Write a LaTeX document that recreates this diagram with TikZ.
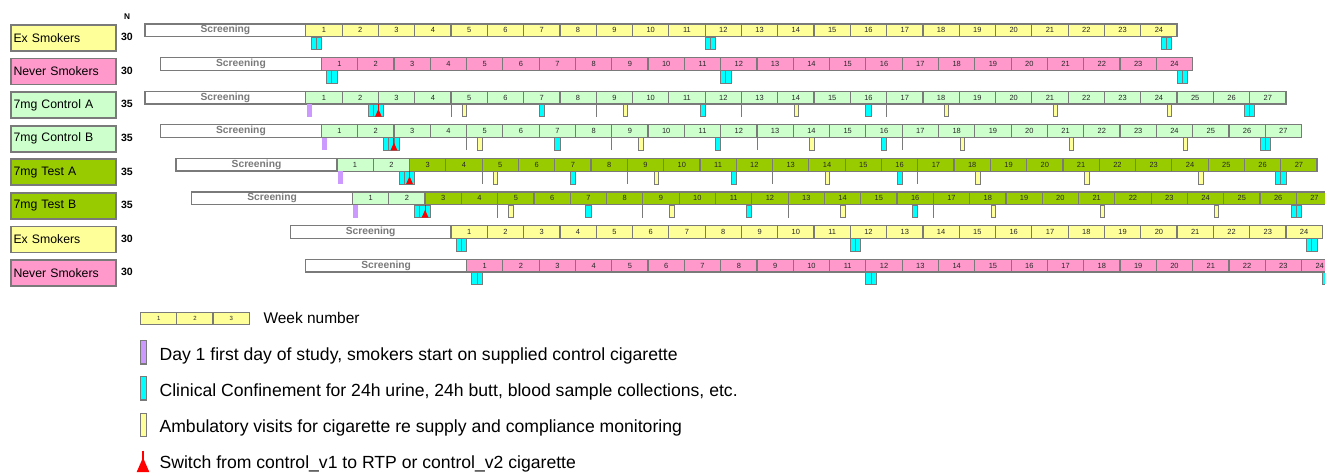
\documentclass[tikz,border=0pt]{standalone}
\usepackage{fontspec}
\setmainfont{Liberation Sans}
\usepackage{xcolor}

\definecolor{exyellow}{HTML}{FFFF99}
\definecolor{neverpink}{HTML}{FF99CC}
\definecolor{ctrlgreen}{HTML}{CCFFCC}
\definecolor{testgreen}{HTML}{99CC00}
\definecolor{confcyan}{HTML}{00FFFF}
\definecolor{dayviolet}{HTML}{CC99FF}
\definecolor{framegray}{HTML}{7A7A7A}

\begin{document}
\begin{tikzpicture}[
      x=0.75pt, y=-0.75pt,
      groupbox/.style={rectangle, draw=framegray, line width=1.3pt, anchor=north west, minimum height=19.5pt, text width=74.75pt, inner xsep=2pt, inner ysep=0pt, align=left, font=\fontsize{9.2}{11}\selectfont},
      nsize/.style={inner sep=0pt, font=\bfseries\fontsize{7.9}{9}\selectfont},
      screenbox/.style={rectangle, draw=framegray, fill=white, line width=1pt, minimum width=120.6pt, minimum height=9.53pt, inner sep=0pt, text=framegray, font=\bfseries\fontsize{7.7}{8}\selectfont},
      weekbox/.style={rectangle, draw=framegray, line width=0.9pt, minimum width=27.23pt, minimum height=9.53pt, inner sep=0pt, text=black!85, font=\fontsize{5.6}{6}\selectfont},
      confbox/.style={draw=framegray, fill=confcyan, line width=0.6pt},
      ambbox/.style={draw=framegray, fill=exyellow, line width=0.6pt},
      fourweek/.style={draw=framegray, line width=0.7pt},
      switchline/.style={draw=red, line width=0.8pt},
      legendtext/.style={anchor=base west, inner sep=0pt, font=\fontsize{13.2}{15}\selectfont}
  ]

  \useasboundingbox (0,0) rectangle (1325,472);
  \clip (0,0) rectangle (1325,472);

  \node[nsize, font=\bfseries\fontsize{6.2}{7}\selectfont] (nhead) at (127,16.7) {N};

  % study arms: screening + weeks
  \foreach \r/\yt/\off/\nw/\early/\late/\lbl/\n in {
      1/24/0/24/exyellow/exyellow/Ex Smokers/30,
      2/57.6/3/24/neverpink/neverpink/Never Smokers/30,
      3/91.2/0/27/ctrlgreen/ctrlgreen/7mg Control A/35,
      4/124.8/3/27/ctrlgreen/ctrlgreen/7mg Control B/35,
      5/158.4/6/27/ctrlgreen/testgreen/7mg Test A/35,
      6/192/9/27/ctrlgreen/testgreen/7mg Test B/35,
      7/225.6/28/24/exyellow/exyellow/Ex Smokers/30,
      8/259.2/31/24/neverpink/neverpink/Never Smokers/30}{
    \node[groupbox, fill=\late] (grp\r) at (10,\yt) {\lbl};
    \node[nsize] (n\r) at (127,{\yt+13}) {\n};
    \pgfmathsetmacro{\xo}{305.8+5.186*\off}
    \node[screenbox] (scr\r) at ({\xo-80.4},{\yt+6.35}) {Screening};
    \foreach \k in {1,...,\nw}{
      \ifnum\k<3 \edef\wc{\early}\else\edef\wc{\late}\fi
      \node[weekbox, fill=\wc] (wk\r-\k) at ({\xo+(\k-0.5)*36.302},{\yt+6.35}) {\k};
    }
  }

  % smokers: confinements only
  \foreach \yt/\off in {24/0, 57.6/3, 225.6/28, 259.2/31}{
    \pgfmathsetmacro{\xo}{305.8+5.186*\off}
    \pgfmathsetmacro{\yb}{\yt+13}
    \foreach \d in {1,2,77,78,165,166}
      \draw[confbox] ({\xo+\d*5.186},\yb) rectangle ++(5.186,12.5);
  }

  % 7mg arms
  \foreach \yt/\off in {91.2/0, 124.8/3, 158.4/6, 192/9}{
    \pgfmathsetmacro{\xo}{305.8+5.186*\off}
    \pgfmathsetmacro{\yb}{\yt+13}
    \fill[dayviolet] ({\xo+0.8},\yb) rectangle ++(5,12.5);
    \foreach \d in {28,56,84,112}
      \draw[fourweek] ({\xo+\d*5.186},\yb) -- ++(0,12.5);
    \foreach \d in {12,13,14,45,76,108,181,182}
      \draw[confbox] ({\xo+\d*5.186},\yb) rectangle ++(5.186,12.5);
    \foreach \d in {30,61,94,123,144,166}
      \draw[ambbox] ({\xo+\d*5.186+0.8},\yb) rectangle ++(4.4,12.5);
    \draw[switchline] ({\xo+14*5.186},\yb) -- ++(0,6);
    \fill[red] ({\xo+14*5.186},{\yb+4.8}) -- ++(-3.4,7.7) -- ++(6.8,0) -- cycle;
  }

  % legend
  \foreach \k in {1,2,3}
    \node[weekbox, fill=exyellow, font=\fontsize{4.5}{5}\selectfont] (lw\k) at ({140.7+(\k-0.5)*36.2},318.5) {\k};
  \node[legendtext, font=\fontsize{11.6}{13}\selectfont] (lgweek) at (263.3,323.3) {Week number};

  \draw[draw=framegray, fill=dayviolet, line width=0.8pt] (140.7,340.7) rectangle (146.3,364);
  \node[legendtext] (lgday) at (159.3,360.7) {Day 1 first day of study, smokers start on supplied control cigarette};

  \draw[draw=framegray, fill=confcyan, line width=0.8pt] (140.7,376.7) rectangle (146.3,400);
  \node[legendtext] (lgconf) at (159.3,396.7) {Clinical Confinement for 24h urine, 24h butt, blood sample collections, etc.};

  \draw[draw=framegray, fill=exyellow, line width=0.8pt] (140.7,413.3) rectangle (146.3,436.7);
  \node[legendtext] (lgamb) at (159.3,432.7) {Ambulatory visits for cigarette re supply and compliance monitoring};

  \draw[switchline] (143,450.7) -- (143,462);
  \fill[red] (143,457.5) -- (136.7,472) -- (149.3,472) -- cycle;
  \node[legendtext] (lgswitch) at (159.3,468.3) {Switch from control\_v1 to RTP or control\_v2 cigarette};

\end{tikzpicture}
\end{document}
